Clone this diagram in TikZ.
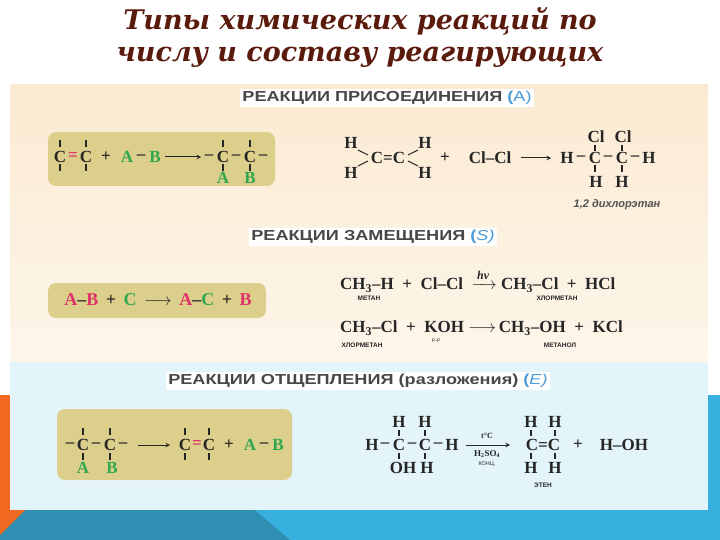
\documentclass[tikz,border=0pt]{standalone}
\usepackage{fontspec}
\usepackage{amsmath}
\usepackage{graphicx}
\setmainfont{Liberation Serif}
\newfontfamily\hdr{Liberation Sans}
\newfontfamily\ttl{DejaVu Serif}
\definecolor{titlec}{HTML}{5A1A0C}
\definecolor{beige}{HTML}{FBEAD2}
\definecolor{beigel}{HTML}{FDF6EA}
\definecolor{boxc}{HTML}{DCCF8C}
\definecolor{bluep}{HTML}{E3F4FA}
\definecolor{teal1}{HTML}{2F8FB3}
\definecolor{teal2}{HTML}{38B0DD}
\definecolor{orng}{HTML}{F26A21}
\definecolor{grn}{HTML}{2FA84F}
\definecolor{mag}{HTML}{E0306A}
\definecolor{hblue}{HTML}{4C9AD6}
\definecolor{ink}{HTML}{262626}
\newcommand\hx[1]{\scalebox{1.25}[1]{#1}}
\begin{document}
\begin{tikzpicture}[x=1pt,y=-1pt,
  chem/.style={font=\bfseries\fontsize{17}{17}\selectfont, text=ink, inner sep=0pt},
  lbl/.style={font=\hdr\bfseries\fontsize{6.5}{6.5}\selectfont, text=ink, inner sep=0pt},
  head/.style={font=\hdr\bfseries\fontsize{14.5}{14.5}\selectfont, text=ink!85, fill=white, inner sep=2pt},
  ttlf/.style={font=\ttl\bfseries\itshape\fontsize{27}{27}\selectfont, text=titlec},
  gbox/.style={fill=boxc, rounded corners=8pt},
  bond/.style={draw=ink, line width=1.5pt},
  arr/.style={draw=ink, line width=1pt, -stealth}]
\useasboundingbox (0,0) rectangle (720,540);
\fill[white] (0,0) rectangle (720,540);
% bottom decorations
\fill[teal2] (0,395) rectangle (720,540);
\fill[teal1] (0,510) -- (255,510) -- (290,540) -- (0,540) -- cycle;
\fill[orng] (0,395) rectangle (12,505);
\fill[orng] (0,505) -- (30,505) -- (0,535) -- cycle;
% title
\node[ttlf] (t1) at (360,21) {Типы химических реакций по};
\node[ttlf] (t2) at (360,57) {числу и составу реагирующих};
\node[ttlf] (t3) at (360,99) {веществ};
% panels
\shade[top color=beige, bottom color=beigel] (10,85) rectangle (708,362);
\fill[bluep] (10,362) rectangle (708,510);
% headers
\node[head] (h1) at (387,98) {\hx{РЕАКЦИИ ПРИСОЕДИНЕНИЯ \textcolor{hblue}{(\mdseries A)}}};
\node[head] (h2) at (373,237) {\hx{РЕАКЦИИ ЗАМЕЩЕНИЯ \textcolor{hblue}{(\mdseries\itshape S\/)}}};
\node[head] (h3) at (358,381) {\hx{РЕАКЦИИ ОТЩЕПЛЕНИЯ (разложения) \textcolor{hblue}{(\mdseries\itshape E\/)}}};
% ---------- box 1
\fill[gbox] (48,132) rectangle (275,186);
\node[chem] (b1a) at (60,157) {C};
\node[chem, text=mag] (b1eq) at (73,157) {=};
\node[chem] (b1b) at (86,157) {C};
\foreach \x in {60,86}{\draw[bond] (\x,140) -- (\x,147); \draw[bond] (\x,164) -- (\x,171);}
\node[chem] (b1p) at (106,157) {+};
\node[chem, text=grn] (b1A0) at (127,157) {A};
\node[chem] (b1d0) at (141,157) {–};
\node[chem, text=grn] (b1B0) at (155,157) {B};
\draw[arr] (165,157) -- (201,157);
\node[chem] (b1d1) at (209,157) {–};
\node[chem] (b1c1) at (223,157) {C};
\node[chem] (b1d2) at (236,157) {–};
\node[chem] (b1c2) at (250,157) {C};
\node[chem] (b1d3) at (263,157) {–};
\foreach \x in {223,250}{\draw[bond] (\x,140) -- (\x,147); \draw[bond] (\x,164) -- (\x,171);}
\node[chem, text=grn] (b1A) at (223,178) {A};
\node[chem, text=grn] (b1B) at (250,178) {B};
% right eq 1
\node[chem] (eH1) at (351,143) {H};
\node[chem] (eH2) at (351,173) {H};
\node[chem] (eCC) at (388,158) {C=C};
\node[chem] (eH3) at (425,143) {H};
\node[chem] (eH4) at (425,173) {H};
\draw[bond,line width=1pt] (358,150) -- (368,155);
\draw[bond,line width=1pt] (358,166) -- (368,161);
\draw[bond,line width=1pt] (418,150) -- (408,155);
\draw[bond,line width=1pt] (418,166) -- (408,161);
\node[chem] (ep) at (445,158) {+};
\node[chem] (eclcl) at (490,158) {Cl–Cl};
\draw[arr] (521,158) -- (551,158);
\node[chem] (eh0) at (567,158) {H};
\node[chem] (ed1) at (581,158) {–};
\node[chem] (ec1) at (595,158) {C};
\node[chem] (ed2) at (608,158) {–};
\node[chem] (ec2) at (622,158) {C};
\node[chem] (ed3) at (635,158) {–};
\node[chem] (eh9) at (649,158) {H};
\node[chem] (ecl1) at (596,137) {Cl};
\node[chem] (ecl2) at (623,137) {Cl};
\node[chem] (eh5) at (596,182) {H};
\node[chem] (eh6) at (622,182) {H};
\foreach \x in {595,622}{\draw[bond] (\x,145) -- (\x,151); \draw[bond] (\x,165) -- (\x,172);}
\node[font=\hdr\bfseries\itshape\fontsize{11}{11}\selectfont, text=ink!80] (dce) at (617,205) {1,2 дихлорэтан};
% ---------- box 2
\fill[gbox] (48,283) rectangle (266,318);
\node[chem, font=\bfseries\fontsize{18}{18}\selectfont] (b2) at (158,300) {\textcolor{mag}{A}–\textcolor{mag}{B}\, + \,\textcolor{grn}{C}\, $\longrightarrow$ \,\textcolor{mag}{A}–\textcolor{grn}{C}\, + \,\textcolor{mag}{B}};
% substitution eqs
\node[chem, anchor=west] (s1) at (340,281) {CH\textsubscript{3}–H \ + \ Cl–Cl \ $\xrightarrow{\,\textit{hv}\,}$ CH\textsubscript{3}–Cl \ + \ HCl};
\node[lbl] (l1) at (369,298) {МЕТАН};
\node[lbl] (l2) at (557,298) {ХЛОРМЕТАН};
\node[chem, anchor=west] (s2) at (340,328) {CH\textsubscript{3}–Cl \ + \ KOH $\longrightarrow$\,CH\textsubscript{3}–OH \ + \ KCl};
\node[lbl] (l3) at (362,345) {ХЛОРМЕТАН};
\node[lbl, font=\hdr\fontsize{5}{5}\selectfont] (l4) at (436,341) {Р-Р};
\node[lbl] (l5) at (560,345) {МЕТАНОЛ};
% ---------- box 3
\fill[gbox] (57,409) rectangle (292,480);
\node[chem] (b3d1) at (70,445) {–};
\node[chem] (b3c1) at (83,445) {C};
\node[chem] (b3d2) at (96,445) {–};
\node[chem] (b3c2) at (110,445) {C};
\node[chem] (b3d3) at (123,445) {–};
\foreach \x in {83,110}{\draw[bond] (\x,428) -- (\x,435); \draw[bond] (\x,453) -- (\x,460);}
\node[chem, text=grn] (b3A) at (83,468) {A};
\node[chem, text=grn] (b3B) at (112,468) {B};
\draw[arr] (138,445) -- (170,445);
\node[chem] (b3a) at (185,445) {C};
\node[chem, text=mag] (b3eq) at (197,445) {=};
\node[chem] (b3b) at (209,445) {C};
\foreach \x in {185,209}{\draw[bond] (\x,428) -- (\x,435); \draw[bond] (\x,453) -- (\x,460);}
\node[chem] (b3p) at (229,445) {+};
\node[chem, text=grn] (b3A0) at (250,445) {A};
\node[chem] (b3d0) at (264,445) {–};
\node[chem, text=grn] (b3B0) at (278,445) {B};
% right eq 3
\node[chem] (r3h0) at (372,445) {H};
\node[chem] (r3d1) at (385,445) {–};
\node[chem] (r3c1) at (399,445) {C};
\node[chem] (r3d2) at (412,445) {–};
\node[chem] (r3c2) at (425,445) {C};
\node[chem] (r3d3) at (438,445) {–};
\node[chem] (r3h9) at (452,445) {H};
\node[chem] (r3h1) at (399,422) {H};
\node[chem] (r3h2) at (425,422) {H};
\node[chem] (r3oh) at (403,468) {OH};
\node[chem] (r3h3) at (427,468) {H};
\foreach \x in {399,425}{\draw[bond] (\x,430) -- (\x,436); \draw[bond] (\x,453) -- (\x,459);}
\draw[arr] (466,445) -- (510,445);
\node[chem, font=\bfseries\fontsize{8}{8}\selectfont] (tc) at (487,436) {t°C};
\node[chem, font=\bfseries\fontsize{9}{9}\selectfont] (h2so4) at (487,454) {H\textsubscript{2}SO\textsubscript{4}};
\node[lbl, font=\hdr\fontsize{5.5}{5.5}\selectfont] (konc) at (487,464) {КОНЦ.};
\node[chem] (r3cc) at (543,445) {C=C};
\node[chem] (r3h4) at (531,422) {H};
\node[chem] (r3h5) at (555,422) {H};
\node[chem] (r3h6) at (531,468) {H};
\node[chem] (r3h7) at (555,468) {H};
\foreach \x in {531,555}{\draw[bond] (\x,430) -- (\x,436); \draw[bond] (\x,453) -- (\x,459);}
\node[chem] (r3p) at (578,445) {+};
\node[chem] (r3hoh) at (624,445) {H–OH};
\node[lbl] (eten) at (543,485) {ЭТЕН};
\end{tikzpicture}
\end{document}
